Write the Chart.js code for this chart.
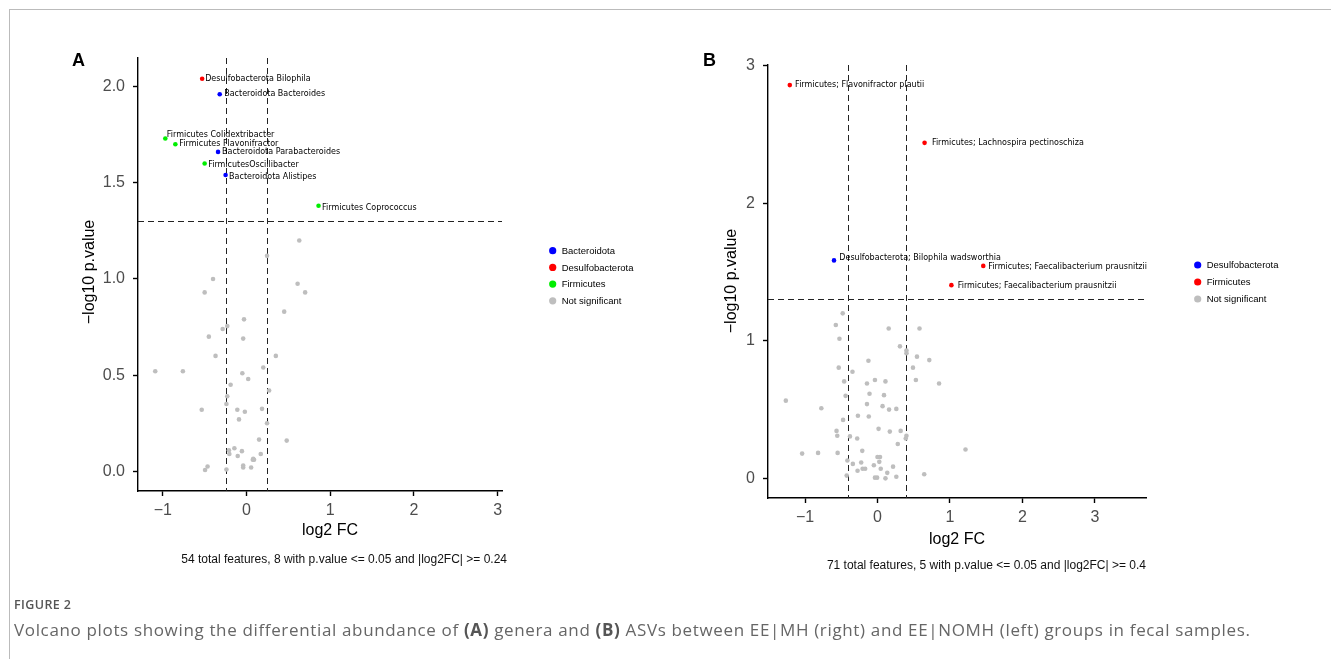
<!DOCTYPE html>
<html>
<head>
<meta charset="utf-8">
<script src="https://cdn.jsdelivr.net/npm/chart.js@4.4.1/dist/chart.umd.min.js"></script>
<style>
  html, body { margin: 0; padding: 0; background: #fff; }
  body { width: 1331px; height: 659px; position: relative; overflow: hidden; }
  .frame { position: absolute; left: 9px; top: 9px; right: 0; bottom: 0; border-top: 1px solid #bbb; border-left: 1px solid #bbb; }
  canvas { position: absolute; left: 0; top: 0; }
  .fig-label { position: absolute; left: 14px; top: 596px; font: 600 12.5px "Open Sans", sans-serif; letter-spacing: 0.4px; color: #555; }
  .caption { position: absolute; left: 14px; top: 618px; font: 17px "Open Sans", sans-serif; letter-spacing: 0.65px; color: #666; white-space: nowrap; }
  .caption b { color: #555; }
</style>
</head>
<body>
<div class="frame"></div>
<canvas id="chartA" width="1331" height="659"></canvas>
<canvas id="chartB" width="1331" height="659"></canvas>
<div class="fig-label">FIGURE 2</div>
<div class="caption">Volcano plots showing the differential abundance of <b>(A)</b> genera and <b>(B)</b> ASVs between EE|MH (right) and EE|NOMH (left) groups in fecal samples.</div>

<script>
// Panel A: genera
const xTicksA = [-1, 0, 1, 2, 3];
const yTicksA = [0, 0.5, 1, 1.5, 2];
const groupsA = ['Bacteroidota', 'Desulfobacterota', 'Firmicutes', 'Not significant'];
const sigNamesA = ['Desulfobacterota Bilophila', 'Bacteroidota Bacteroides', 'Firmicutes Colidextribacter',
  'Firmicutes Flavonifractor', 'Bacteroidota Parabacteroides', 'FirmicutesOscillibacter',
  'Bacteroidota Alistipes', 'Firmicutes Coprococcus'];
const sigGroupA = ['Desulfobacterota', 'Bacteroidota', 'Firmicutes', 'Firmicutes', 'Bacteroidota',
  'Firmicutes', 'Bacteroidota', 'Firmicutes'];
const sigFcA = [-0.53, -0.32, -0.97, -0.85, -0.34, -0.50, -0.25, 0.86];
const sigLogPA = [2.04, 1.96, 1.73, 1.70, 1.66, 1.60, 1.54, 1.38];
const nsFcA = [0.63, 0.245, -0.40, -0.50, 0.61, 0.70, 0.45, -0.03, -0.23, -0.285, -0.45, -0.04, -0.37, 0.35,
  -1.09, -0.76, 0.20, -0.05, 0.02, -0.19, 0.27, -0.23, -0.24, -0.535, -0.11, -0.02, 0.185, -0.09, 0.245,
  0.15, 0.48, -0.145, -0.21, -0.205, -0.055, -0.105, 0.17, 0.075, 0.09, -0.04, -0.04, 0.055, -0.465,
  -0.495, -0.24, 0.08];
const nsLogPA = [1.20, 1.12, 1.00, 0.93, 0.975, 0.93, 0.83, 0.79, 0.755, 0.74, 0.70, 0.69, 0.60, 0.60,
  0.52, 0.52, 0.54, 0.51, 0.48, 0.45, 0.42, 0.39, 0.35, 0.32, 0.32, 0.31, 0.325, 0.27, 0.25,
  0.165, 0.16, 0.12, 0.11, 0.09, 0.105, 0.08, 0.09, 0.06, 0.06, 0.03, 0.02, 0.02, 0.025,
  0.007, 0.01, 0.065];
const fcCutA = 0.24;

// Panel B: ASVs
const xTicksB = [-1, 0, 1, 2, 3];
const yTicksB = [0, 1, 2, 3];
const groupsB = ['Desulfobacterota', 'Firmicutes', 'Not significant'];
const sigNamesB = ['Firmicutes; Flavonifractor plautii', 'Firmicutes; Lachnospira pectinoschiza',
  'Desulfobacterota; Bilophila wadsworthia', 'Firmicutes; Faecalibacterium prausnitzii',
  'Firmicutes; Faecalibacterium prausnitzii'];
const sigGroupB = ['Firmicutes', 'Firmicutes', 'Desulfobacterota', 'Firmicutes', 'Firmicutes'];
const sigFcB = [-1.21, 0.65, -0.60, 1.46, 1.02];
const sigLogPB = [2.86, 2.44, 1.585, 1.545, 1.405];
const nsFcB = [-0.48, -0.575, 0.155, 0.58, -0.525, 0.31, 0.40, 0.545, 0.715, -0.125, -0.535, -0.345, 0.49,
  -0.46, -0.035, 0.11, 0.53, -0.145, 0.85, -0.44, -0.11, 0.09, -1.265, -0.145, 0.07, 0.16, 0.26, -0.775,
  -0.27, -0.12, -0.475, 0.015, -0.565, -0.555, -0.38, -0.28, 0.17, 0.32, 0.40, 0.39, 0.28, -0.21, 1.215,
  -1.04, -0.82, -0.55, -0.415, -0.34, -0.225, 0.0, 0.035, 0.025, -0.05, 0.215, -0.205, -0.17, -0.275,
  0.045, 0.135, -0.425, -0.035, -0.005, 0.11, 0.26, 0.645, 0.40];
const nsLogPB = [1.20, 1.115, 1.09, 1.09, 1.015, 0.96, 0.91, 0.885, 0.86, 0.855, 0.805, 0.775, 0.805,
  0.705, 0.715, 0.705, 0.715, 0.69, 0.69, 0.60, 0.615, 0.605, 0.565, 0.54, 0.525, 0.50, 0.505, 0.51,
  0.455, 0.45, 0.425, 0.36, 0.345, 0.31, 0.305, 0.29, 0.34, 0.345, 0.31, 0.29, 0.25, 0.20, 0.21,
  0.18, 0.185, 0.185, 0.13, 0.105, 0.115, 0.155, 0.155, 0.12, 0.095, 0.085, 0.07, 0.07, 0.055,
  0.07, 0.04, 0.02, 0.005, 0.005, 0.0, 0.012, 0.03, 0.93];
const fcCutB = 0.4;

const pCut = -Math.log10(0.05);

// Colours per group (ggplot basics)
const colorsA = { 'Bacteroidota': '#0000ff', 'Desulfobacterota': '#ff0000', 'Firmicutes': '#00ee00', 'Not significant': '#bebebe' };
const colorsB = { 'Desulfobacterota': '#0000ff', 'Firmicutes': '#ff0000', 'Not significant': '#bebebe' };

// Label nudges (px) to sit like ggrepel did
const nudgeA = [[3, 0], [4.5, 0], [1.5, -3.3], [4, 0], [4, 0], [3.5, 1.3], [3.5, 2], [3.5, 1.7]];
const nudgeB = [[5.3, 0], [7.3, 0], [5.3, -2.7], [5, 1], [6.3, 1]];

const tickFont = { family: 'Liberation Sans, Arial, sans-serif', size: 16 };

// Build the scatter datasets, one per group
function buildDatasets(groups, colors, sigGroup, sigFc, sigLogP, nsFc, nsLogP) {
  return groups.map(g => {
    let pts;
    if (g === 'Not significant') {
      pts = nsFc.map((x, i) => ({ x: x, y: nsLogP[i] }));
    } else {
      pts = sigFc.map((x, i) => ({ x: x, y: sigLogP[i], g: sigGroup[i] })).filter(p => p.g === g);
    }
    return {
      label: g,
      data: pts,
      backgroundColor: colors[g],
      borderWidth: 0,
      pointRadius: 2.3,
      order: g === 'Not significant' ? 2 : 1
    };
  });
}

// Overlay: cut-off lines, point labels, legend, titles
function overlayPlugin(cfg) {
  return {
    id: 'overlay' + cfg.letter,
    beforeDatasetsDraw(chart) {
      const { ctx, chartArea: a, scales: { x, y } } = chart;
      ctx.save();
      ctx.strokeStyle = '#222';
      ctx.lineWidth = 1;
      ctx.setLineDash([6, 4]);
      [-cfg.fcCut, cfg.fcCut].forEach(v => {
        const px = Math.round(x.getPixelForValue(v)) + 0.5;
        ctx.beginPath();
        ctx.moveTo(px, a.top);
        ctx.lineTo(px, a.bottom);
        ctx.stroke();
      });
      const py = Math.round(y.getPixelForValue(pCut)) + 0.5;
      ctx.beginPath();
      ctx.moveTo(a.left, py);
      ctx.lineTo(a.right, py);
      ctx.stroke();
      ctx.restore();
    },
    afterDatasetsDraw(chart) {
      const { ctx, chartArea: a, scales: { x, y } } = chart;
      ctx.save();
      // point labels
      ctx.fillStyle = '#000';
      ctx.font = cfg.labelFont;
      ctx.textAlign = 'left';
      ctx.textBaseline = 'middle';
      cfg.names.forEach((n, i) => {
        const px = x.getPixelForValue(cfg.fc[i]) + cfg.nudge[i][0];
        const py = y.getPixelForValue(cfg.logP[i]) + cfg.nudge[i][1];
        ctx.fillText(n, px, py);
      });
      // legend
      ctx.font = '9.5px "Liberation Sans", Arial, sans-serif';
      cfg.groups.forEach((g, i) => {
        const ly = cfg.legend.y + i * cfg.legend.step;
        ctx.fillStyle = cfg.colors[g];
        ctx.beginPath();
        ctx.arc(cfg.legend.x, ly, 3.6, 0, Math.PI * 2);
        ctx.fill();
        ctx.fillStyle = '#000';
        ctx.fillText(g, cfg.legend.x + 9, ly + 0.5);
      });
      // panel letter
      ctx.font = 'bold 18px "Liberation Sans", Arial, sans-serif';
      ctx.textBaseline = 'alphabetic';
      ctx.fillText(cfg.letter, cfg.letterX, 66);
      // axis titles
      ctx.font = '16px "Liberation Sans", Arial, sans-serif';
      ctx.textAlign = 'center';
      ctx.textBaseline = 'middle';
      ctx.fillText('log2 FC', (a.left + a.right) / 2 + cfg.xTitleDx, cfg.xTitleY);
      ctx.save();
      ctx.translate(cfg.yTitleX, cfg.yTitleY);
      ctx.rotate(-Math.PI / 2);
      ctx.fillText('\u2212log10 p.value', 0, 0);
      ctx.restore();
      // caption
      ctx.font = '12px "Liberation Sans", Arial, sans-serif';
      ctx.textAlign = 'right';
      ctx.fillStyle = '#111';
      ctx.fillText(cfg.caption, cfg.captionX, cfg.captionY);
      ctx.restore();
    }
  };
}

// Create one volcano panel
function createVolcano(canvasId, cfg) {
  const area = cfg.area;
  const fmtX = v => (v < 0 ? '\u2212' + Math.abs(v) : String(v));
  return new Chart(document.getElementById(canvasId), {
    type: 'scatter',
    data: { datasets: cfg.datasets },
    options: {
      responsive: false,
      animation: false,
      devicePixelRatio: 1,
      events: [],
      layout: { padding: { left: 0, top: area.top, right: 1331 - area.right, bottom: 0 } },
      plugins: { legend: { display: false }, tooltip: { enabled: false } },
      scales: {
        x: {
          type: 'linear',
          min: cfg.xMin,
          max: cfg.xMax,
          afterBuildTicks: s => { s.ticks = cfg.xTicks.map(v => ({ value: v })); },
          afterFit: s => { s.height = 659 - area.bottom; },
          border: { display: true, color: '#000', width: 1.4 },
          grid: { drawOnChartArea: false, drawTicks: true, tickLength: 5, tickColor: '#000', tickWidth: 1.4 },
          ticks: { color: '#4d4d4d', font: tickFont, padding: 5, maxRotation: 0, callback: fmtX }
        },
        y: {
          type: 'linear',
          min: cfg.yMin,
          max: cfg.yMax,
          afterBuildTicks: s => { s.ticks = cfg.yTicks.map(v => ({ value: v })); },
          afterFit: s => { s.width = area.left; },
          border: { display: true, color: '#000', width: 1.4 },
          grid: { drawOnChartArea: false, drawTicks: true, tickLength: 5, tickColor: '#000', tickWidth: 1.4 },
          ticks: { color: '#4d4d4d', font: tickFont, padding: 8, callback: cfg.fmtY }
        }
      }
    },
    plugins: [overlayPlugin(cfg)]
  });
}

createVolcano('chartA', {
  letter: 'A', letterX: 72,
  area: { left: 138, right: 502, top: 58, bottom: 491 },
  xMin: -1.296, xMax: 3.051, yMin: -0.102, yMax: 2.148,
  xTicks: xTicksA, yTicks: yTicksA,
  fmtY: v => v.toFixed(1),
  datasets: buildDatasets(groupsA, colorsA, sigGroupA, sigFcA, sigLogPA, nsFcA, nsLogPA),
  groups: groupsA, colors: colorsA,
  names: sigNamesA, fc: sigFcA, logP: sigLogPA, nudge: nudgeA,
  labelFont: '8px "DejaVu Sans", sans-serif',
  fcCut: fcCutA,
  legend: { x: 552.7, y: 250.7, step: 16.7 },
  xTitleDx: 10, xTitleY: 531, yTitleX: 90, yTitleY: 272,
  caption: '54 total features, 8 with p.value <= 0.05 and |log2FC| >= 0.24', captionX: 507, captionY: 560
});

createVolcano('chartB', {
  letter: 'B', letterX: 703,
  area: { left: 768, right: 1146, top: 65, bottom: 498 },
  xMin: -1.511, xMax: 3.706, yMin: -0.143, yMax: 3.006,
  xTicks: xTicksB, yTicks: yTicksB,
  fmtY: v => String(v),
  datasets: buildDatasets(groupsB, colorsB, sigGroupB, sigFcB, sigLogPB, nsFcB, nsLogPB),
  groups: groupsB, colors: colorsB,
  names: sigNamesB, fc: sigFcB, logP: sigLogPB, nudge: nudgeB,
  labelFont: '8px "DejaVu Sans", sans-serif',
  fcCut: fcCutB,
  legend: { x: 1197.7, y: 265, step: 17 },
  xTitleDx: 0, xTitleY: 539.5, yTitleX: 732, yTitleY: 281,
  caption: '71 total features, 5 with p.value <= 0.05 and |log2FC| >= 0.4', captionX: 1146, captionY: 566
});
</script>
</body>
</html>
